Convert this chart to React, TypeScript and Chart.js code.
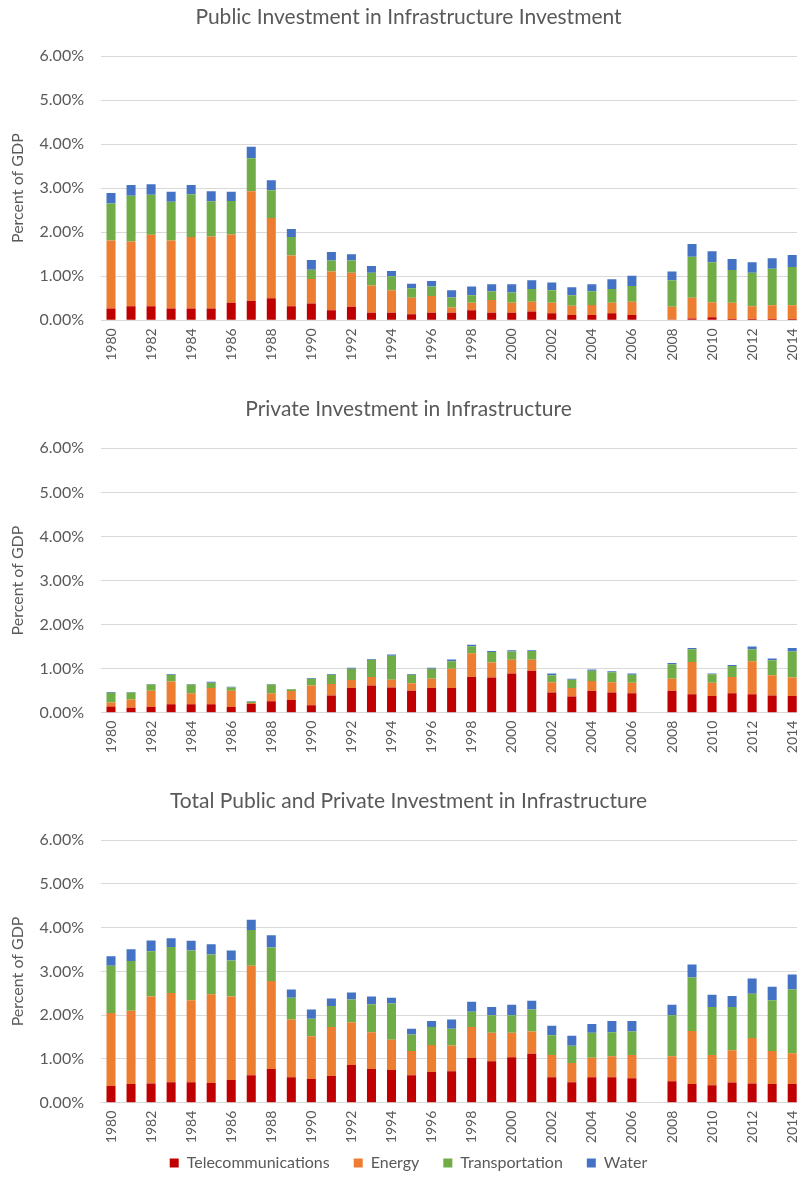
import React, { useEffect, useRef } from "react";
import { Chart, registerables } from "chart.js";

Chart.register(...registerables);
Chart.defaults.font.family = "Lato, 'Open Sans', sans-serif";

const years = [
  "1980", "1981", "1982", "1983", "1984", "1985", "1986", "1987", "1988", "1989",
  "1990", "1991", "1992", "1993", "1994", "1995", "1996", "1997", "1998", "1999",
  "2000", "2001", "2002", "2003", "2004", "2005", "2006", "2007", "2008", "2009",
  "2010", "2011", "2012", "2013", "2014",
];

const seriesNames = ["Telecommunications", "Energy", "Transportation", "Water"];
const seriesColors = ["#C00000", "#ED7D31", "#70AD47", "#4472C4"];
const yTickValues = [0, 1, 2, 3, 4, 5, 6];
const yAxisTitle = "Percent of GDP";

const titles = [
  "Public Investment in Infrastructure Investment",
  "Private Investment in Infrastructure",
  "Total Public and Private Investment in Infrastructure",
];

// Public (percent of GDP)
const publicTelecom = [
  0.27, 0.32, 0.32, 0.27, 0.27, 0.27, 0.40, 0.44, 0.50, 0.32,
  0.38, 0.23, 0.31, 0.17, 0.17, 0.14, 0.17, 0.17, 0.23, 0.17,
  0.17, 0.20, 0.16, 0.12, 0.12, 0.16, 0.12, null, 0.02, 0.04,
  0.07, 0.03, 0.03, 0.03, 0.03,
];
const publicEnergy = [
  1.54, 1.47, 1.62, 1.54, 1.62, 1.63, 1.55, 2.49, 1.82, 1.15,
  0.56, 0.88, 0.77, 0.62, 0.51, 0.37, 0.38, 0.12, 0.17, 0.29,
  0.23, 0.22, 0.24, 0.21, 0.23, 0.24, 0.30, null, 0.29, 0.47,
  0.34, 0.37, 0.29, 0.31, 0.31,
];
const publicTransport = [
  0.84, 1.04, 0.91, 0.88, 0.97, 0.80, 0.76, 0.75, 0.63, 0.42,
  0.21, 0.25, 0.28, 0.29, 0.32, 0.22, 0.22, 0.23, 0.17, 0.20,
  0.23, 0.29, 0.28, 0.24, 0.31, 0.31, 0.36, null, 0.60, 0.93,
  0.91, 0.74, 0.76, 0.83, 0.87,
];
const publicWater = [
  0.24, 0.24, 0.24, 0.23, 0.21, 0.23, 0.21, 0.26, 0.23, 0.18,
  0.22, 0.19, 0.14, 0.15, 0.12, 0.10, 0.12, 0.16, 0.20, 0.16,
  0.19, 0.20, 0.18, 0.18, 0.16, 0.22, 0.23, null, 0.20, 0.29,
  0.25, 0.25, 0.24, 0.24, 0.27,
];

// Private
const privateTelecom = [
  0.14, 0.11, 0.13, 0.19, 0.19, 0.19, 0.13, 0.20, 0.26, 0.29,
  0.17, 0.39, 0.56, 0.62, 0.57, 0.50, 0.56, 0.56, 0.81, 0.80,
  0.89, 0.95, 0.46, 0.37, 0.49, 0.46, 0.44, null, 0.49, 0.42,
  0.38, 0.44, 0.42, 0.39, 0.38,
];
const privateEnergy = [
  0.09, 0.19, 0.37, 0.52, 0.25, 0.37, 0.37, 0.02, 0.18, 0.20,
  0.45, 0.26, 0.18, 0.19, 0.18, 0.17, 0.21, 0.44, 0.54, 0.34,
  0.31, 0.25, 0.23, 0.19, 0.23, 0.23, 0.24, null, 0.28, 0.73,
  0.30, 0.37, 0.75, 0.46, 0.42,
];
const privateTransport = [
  0.22, 0.16, 0.14, 0.15, 0.20, 0.12, 0.07, 0.03, 0.20, 0.04,
  0.15, 0.21, 0.26, 0.39, 0.54, 0.19, 0.23, 0.17, 0.16, 0.24,
  0.19, 0.20, 0.16, 0.19, 0.23, 0.23, 0.18, null, 0.33, 0.29,
  0.19, 0.25, 0.27, 0.34, 0.59,
];
const privateWater = [
  0.02, 0.01, 0.01, 0.02, 0.01, 0.02, 0.02, 0.01, 0.01, 0.01,
  0.02, 0.02, 0.02, 0.02, 0.03, 0.02, 0.02, 0.04, 0.03, 0.02,
  0.03, 0.02, 0.04, 0.02, 0.03, 0.02, 0.03, null, 0.03, 0.03,
  0.02, 0.02, 0.06, 0.04, 0.08,
];

// Total
const totalTelecom = [
  0.38, 0.43, 0.44, 0.47, 0.47, 0.45, 0.52, 0.63, 0.77, 0.58,
  0.54, 0.61, 0.86, 0.77, 0.75, 0.63, 0.70, 0.72, 1.02, 0.95,
  1.04, 1.12, 0.58, 0.47, 0.58, 0.58, 0.56, null, 0.49, 0.43,
  0.40, 0.46, 0.44, 0.43, 0.43,
];
const totalEnergy = [
  1.67, 1.67, 1.99, 2.04, 1.87, 2.03, 1.91, 2.50, 2.01, 1.32,
  0.98, 1.12, 0.98, 0.84, 0.69, 0.55, 0.62, 0.59, 0.71, 0.65,
  0.56, 0.51, 0.51, 0.44, 0.45, 0.48, 0.53, null, 0.57, 1.21,
  0.69, 0.74, 1.04, 0.75, 0.70,
];
const totalTransport = [
  1.08, 1.14, 1.03, 1.05, 1.14, 0.91, 0.82, 0.82, 0.77, 0.50,
  0.40, 0.48, 0.52, 0.64, 0.83, 0.38, 0.41, 0.38, 0.35, 0.40,
  0.40, 0.50, 0.45, 0.39, 0.57, 0.55, 0.54, null, 0.94, 1.22,
  1.10, 0.99, 1.01, 1.16, 1.46,
];
const totalWater = [
  0.22, 0.27, 0.25, 0.20, 0.22, 0.23, 0.23, 0.23, 0.28, 0.19,
  0.21, 0.17, 0.16, 0.18, 0.13, 0.13, 0.14, 0.21, 0.23, 0.19,
  0.24, 0.20, 0.22, 0.23, 0.20, 0.26, 0.24, null, 0.24, 0.30,
  0.28, 0.25, 0.35, 0.31, 0.34,
];

const GRID = "#d9d9d9";
const TEXT = "#595959";
const CANVAS_W = 817;

// Let the rotated year labels spill below the x-axis box without being clipped.
const unclipXLabels = {
  id: "unclipXLabels",
  afterLayout(chart: any) {
    const s = chart.scales.x;
    if (s) s.bottom = chart.height;
  },
};

type PanelProps = {
  top: number;
  height: number;
  title: string;
  series: (number | null)[][];
  titlePadTop: number;
  titlePadBottom: number;
  xAxisHeight: number;
  legend: boolean;
};

function Panel({ top, height, title, series, titlePadTop, titlePadBottom, xAxisHeight, legend }: PanelProps) {
  const ref = useRef<HTMLCanvasElement>(null);
  useEffect(() => {
    const chart = new Chart(ref.current!, {
      type: "bar",
      data: {
        labels: years,
        datasets: seriesNames.map((name, i) => ({
          label: name,
          data: series[i],
          backgroundColor: seriesColors[i],
          borderWidth: 0,
          barPercentage: 0.9,
          categoryPercentage: 0.5,
        })),
      },
      plugins: [unclipXLabels],
      options: {
        responsive: false,
        animation: false,
        layout: { padding: { left: 0, right: 0, top: 0, bottom: legend ? 8 : 0 } },
        plugins: {
          title: {
            display: true,
            text: title,
            color: TEXT,
            font: { size: 21, weight: "normal" },
            padding: { top: titlePadTop, bottom: titlePadBottom },
          },
          legend: legend
            ? {
                display: true,
                position: "bottom",
                labels: {
                  color: TEXT,
                  boxWidth: 9,
                  boxHeight: 9,
                  padding: 24,
                  font: { size: 16 },
                },
              }
            : { display: false },
          tooltip: { enabled: false },
        },
        scales: {
          x: {
            stacked: true,
            grid: { display: false, drawTicks: false },
            border: { display: true, color: GRID },
            ticks: {
              autoSkip: false,
              minRotation: 90,
              maxRotation: 90,
              padding: 8,
              color: TEXT,
              font: { size: 14 },
              callback: (_v: any, i: number) => (i % 2 === 0 ? years[i] : ""),
            },
            afterFit: (s: any) => {
              s.height = xAxisHeight;
            },
          },
          y: {
            stacked: true,
            min: 0,
            max: 6,
            grid: { color: GRID, drawTicks: false },
            border: { display: false },
            afterBuildTicks: (s: any) => {
              s.ticks = yTickValues.map((v) => ({ value: v }));
            },
            ticks: {
              padding: 17,
              color: TEXT,
              font: { size: 16 },
              callback: (v: any) => Number(v).toFixed(2) + "%",
            },
            title: {
              display: true,
              text: yAxisTitle,
              color: TEXT,
              font: { size: 16 },
              padding: { top: 8, bottom: 0 },
            },
            afterFit: (s: any) => {
              s.width = 101;
            },
          },
        },
      },
    } as any);
    return () => chart.destroy();
  }, []);
  return (
    <div style={{ position: "absolute", left: 0, top, width: CANVAS_W, height }}>
      <canvas ref={ref} width={CANVAS_W} height={height} />
    </div>
  );
}

export default function App() {
  useEffect(() => {
    document.body.style.margin = "0";
  }, []);
  return (
    <div style={{ position: "relative", width: 797, height: 1189, overflow: "hidden", background: "#fff" }}>
      <Panel
        top={0}
        height={390}
        title={titles[0]}
        series={[publicTelecom, publicEnergy, publicTransport, publicWater]}
        titlePadTop={4.4}
        titlePadBottom={26.4}
        xAxisHeight={69.7}
        legend={false}
      />
      <Panel
        top={390}
        height={390}
        title={titles[1]}
        series={[privateTelecom, privateEnergy, privateTransport, privateWater]}
        titlePadTop={6.7}
        titlePadBottom={26.4}
        xAxisHeight={67.3}
        legend={false}
      />
      <Panel
        top={780}
        height={409}
        title={titles[2]}
        series={[totalTelecom, totalEnergy, totalTransport, totalWater]}
        titlePadTop={9.1}
        titlePadBottom={25.9}
        xAxisHeight={28.3}
        legend={true}
      />
    </div>
  );
}
